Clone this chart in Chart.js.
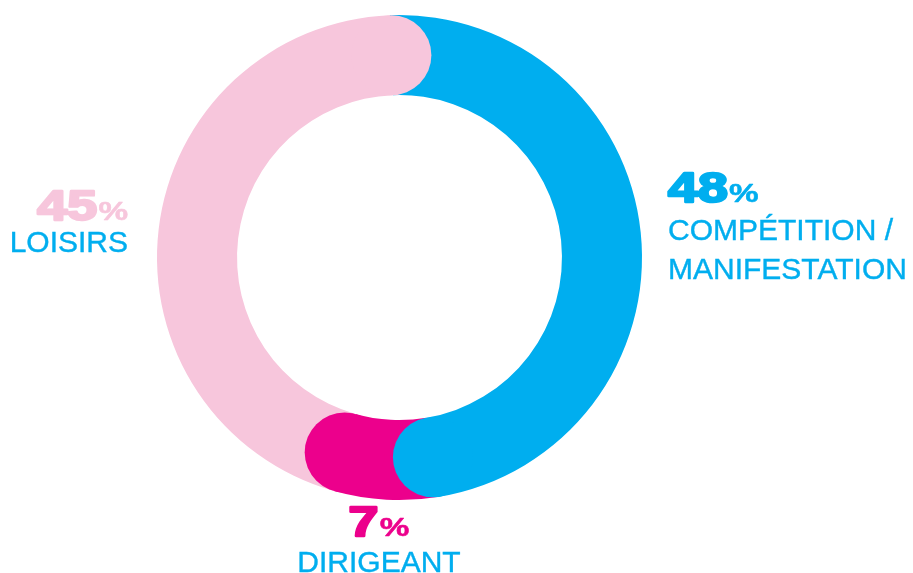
<!DOCTYPE html>
<html>
<head>
<meta charset="utf-8">
<script src="https://cdn.jsdelivr.net/npm/chart.js@4/dist/chart.umd.min.js"></script>
<style>
  html, body { margin: 0; padding: 0; background: #fff; }
  #wrap { width: 913px; height: 573px; }
</style>
</head>
<body>
<div id="wrap"><canvas id="chart" width="913" height="573"></canvas></div>
<script>
const categories = ["COMPÉTITION / MANIFESTATION", "DIRIGEANT", "LOISIRS"];
const shares = [48, 7, 45];
const segmentColors = ["#00aeef", "#ec008c", "#f7c6dc"];
const numberColors = ["#00aeef", "#ec008c", "#f7c6dc"];
const textColor = "#00aeef";

// where each label sits: anchor x, baseline of the number, alignment
const labelSpots = [
  { x: 668, y: 202, align: "left", lines: ["COMPÉTITION /", "MANIFESTATION"], textY: 240 },
  { x: 379, y: 536, align: "center", lines: ["DIRIGEANT"], textY: 572 },
  { x: 128, y: 220, align: "right", lines: ["LOISIRS"], textY: 252 },
];

// round caps at the end of every segment, drawn over the next one
const roundCaps = {
  id: "roundCaps",
  afterDatasetsDraw(chart) {
    const ctx = chart.ctx;
    const meta = chart.getDatasetMeta(0);
    meta.data.forEach((arc, i) => {
      const p = arc.getProps(["x", "y", "endAngle", "innerRadius", "outerRadius"], true);
      const mid = (p.innerRadius + p.outerRadius) / 2;
      const r = (p.outerRadius - p.innerRadius) / 2;
      ctx.save();
      ctx.fillStyle = segmentColors[i];
      ctx.beginPath();
      ctx.arc(p.x + mid * Math.cos(p.endAngle), p.y + mid * Math.sin(p.endAngle), r, 0, Math.PI * 2);
      ctx.fill();
      ctx.restore();
    });
  },
};

// big extended percentages + category names
const outerLabels = {
  id: "outerLabels",
  afterDraw(chart) {
    const ctx = chart.ctx;
    const stretch = 1.28;
    const numFont = "bold 42px 'Liberation Sans', Arial, sans-serif";
    const pctFont = "bold 26px 'Liberation Sans', Arial, sans-serif";
    shares.forEach((v, i) => {
      const spot = labelSpots[i];
      const num = String(v);
      ctx.save();
      ctx.font = numFont;
      const numW = ctx.measureText(num).width;
      ctx.font = pctFont;
      const pctW = ctx.measureText("%").width;
      const gap = 1;
      const total = (numW + gap + pctW) * stretch;
      let x0 = spot.x;
      if (spot.align === "right") x0 = spot.x - total;
      if (spot.align === "center") x0 = spot.x - total / 2;
      ctx.translate(x0, spot.y);
      ctx.scale(stretch, 1);
      ctx.fillStyle = numberColors[i];
      ctx.strokeStyle = numberColors[i];
      ctx.lineJoin = "round";
      ctx.textBaseline = "alphabetic";
      ctx.textAlign = "left";
      ctx.font = numFont;
      ctx.lineWidth = 2.4;
      ctx.fillText(num, 0, 0);
      ctx.strokeText(num, 0, 0);
      ctx.font = pctFont;
      ctx.lineWidth = 0.5;
      ctx.fillText("%", numW + gap, 0);
      ctx.strokeText("%", numW + gap, 0);
      ctx.restore();

      ctx.save();
      ctx.font = "30px 'Liberation Sans', Arial, sans-serif";
      ctx.fillStyle = textColor;
      ctx.strokeStyle = textColor;
      ctx.lineWidth = 0.4;
      ctx.textBaseline = "alphabetic";
      ctx.textAlign = spot.align;
      spot.lines.forEach((line, k) => {
        ctx.fillText(line, spot.x, spot.textY + k * 39);
        ctx.strokeText(line, spot.x, spot.textY + k * 39);
      });
      ctx.restore();
    });
  },
};

const ctx = document.getElementById("chart").getContext("2d");
new Chart(ctx, {
  type: "doughnut",
  data: {
    labels: categories,
    datasets: [
      {
        data: shares,
        backgroundColor: segmentColors,
        borderWidth: 0,
        hoverOffset: 0,
      },
    ],
  },
  options: {
    responsive: false,
    animation: false,
    cutout: "67%",
    rotation: -2.3,
    layout: { padding: { left: 157, top: 15, right: 271, bottom: 73 } },
    plugins: {
      legend: { display: false },
      tooltip: { enabled: false },
    },
  },
  plugins: [roundCaps, outerLabels],
});
</script>
</body>
</html>
